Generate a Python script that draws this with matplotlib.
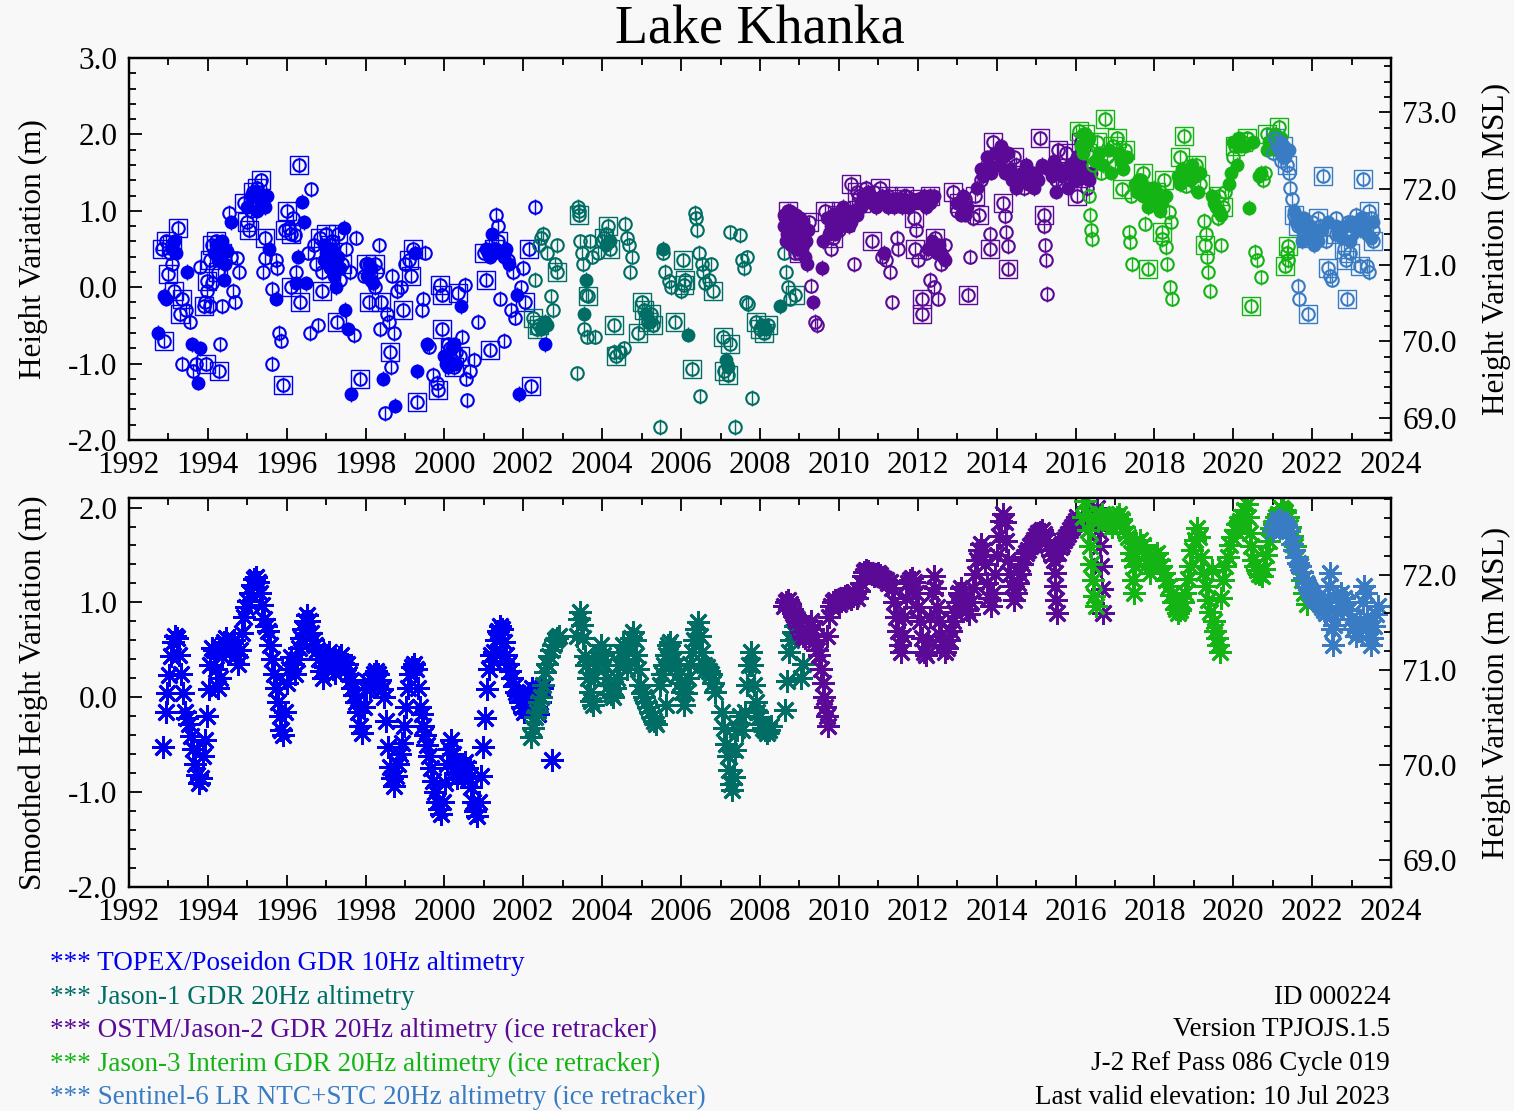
import numpy as np
import matplotlib
matplotlib.use("Agg")
import matplotlib.pyplot as plt
from matplotlib.ticker import MultipleLocator, FormatStrFormatter

plt.rcParams['font.family'] = ['Liberation Serif', 'DejaVu Serif']
plt.rcParams['axes.unicode_minus'] = False

# --- raw heights (top panel), (decimal year, height m) ---
tp_open = [(1993.05, 0.45), (1993.10, 0.30), (1993.35, -1.00), (1993.45, -0.30), (1993.55, -0.45),
           (1993.62, -1.10), (1993.70, -1.00), (1993.80, 0.27), (1993.92, -0.20), (1993.97, -0.05),
           (1994.05, -0.25), (1994.10, 0.05), (1994.35, -0.25), (1994.30, -0.75), (1994.55, 0.97),
           (1994.60, 0.40), (1994.65, -0.05), (1994.70, -0.20), (1994.75, 0.38), (1994.80, 0.20),
           (1995.10, 1.00), (1995.20, 1.10), (1995.40, 0.20), (1995.45, 0.38), (1995.64, -0.02),
           (1995.72, 0.35), (1995.75, 0.25), (1995.62, -1.00), (1995.80, -0.60), (1995.85, -0.70),
           (1996.05, 0.78), (1996.15, 0.90), (1996.20, 0.68), (1996.25, 0.20), (1996.55, 0.45),
           (1996.59, -0.60), (1996.63, 1.28), (1996.70, 0.55), (1996.75, 0.30), (1996.80, -0.50),
           (1996.90, 0.20), (1997.05, 0.45), (1997.15, 0.60), (1997.20, 0.35), (1997.35, 0.10),
           (1997.50, 0.50), (1997.60, 0.20), (1997.72, -0.63), (1997.75, 0.65), (1997.95, 0.15),
           (1998.05, 0.30), (1998.15, 0.10), (1998.25, 0.00), (1998.30, 0.20), (1998.35, 0.55),
           (1998.37, -0.55), (1998.50, -1.65), (1998.55, -0.35), (1998.60, -0.45), (1998.65, -1.05),
           (1998.68, 0.15), (1998.72, -0.60), (1998.80, -0.05), (1998.90, 0.00), (1999.00, 0.30),
           (1999.44, -0.30), (1999.47, -0.15), (1999.50, 0.45), (1999.60, -0.78), (1999.70, -1.15),
           (1999.80, -1.25), (2000.10, -0.75), (2000.20, -0.95), (2000.30, -0.85), (2000.45, -0.65),
           (2000.53, 0.03), (2000.55, -1.20), (2000.58, -1.48), (2000.65, -1.10), (2000.75, -0.95),
           (2000.85, -0.45), (2001.30, 0.95), (2001.35, 0.80), (2001.40, -0.15), (2001.50, -0.70),
           (2001.60, 0.35), (2001.70, -0.30), (2001.75, 0.20), (2001.80, -0.40), (2001.95, 0.00),
           (2002.30, 1.05), (2002.00, 0.25)]
tp_fill = [(1992.74, -0.60), (1992.90, -0.11), (1992.95, -0.15), (1993.47, 0.20), (1993.60, -0.75),
           (1993.75, -1.25), (1993.80, -0.80), (1994.30, 0.50), (1994.35, 0.60), (1994.40, 0.10),
           (1994.45, 0.30), (1994.50, 0.48), (1994.60, 0.85), (1995.30, 1.15), (1995.50, 1.20),
           (1995.55, 0.50), (1995.73, -0.15), (1996.25, 0.05), (1996.30, 0.40), (1996.40, 1.12),
           (1996.45, 0.85), (1996.50, 0.05), (1996.95, 0.35), (1997.10, 0.25), (1997.25, 0.00),
           (1997.45, 0.78), (1997.47, -0.30), (1997.55, -0.55), (1997.63, -1.40), (1998.20, 0.05),
           (1998.45, -1.20), (1998.76, -1.55), (1999.25, 0.45), (1999.30, -1.10), (1999.55, -0.75),
           (2000.05, -1.00), (2000.43, -0.25), (2001.20, 0.70), (2001.10, 0.45), (2001.88, -1.40),
           (2001.65, 0.30), (2002.56, -0.75), (2001.85, -0.10),
           (1995.00, 1.05), (1995.10, 1.20), (1995.20, 1.25), (1995.25, 1.00), (1995.35, 1.20),
           (1995.40, 1.10), (1995.45, 1.05), (1996.95, 0.55), (1997.00, 0.45), (1997.05, 0.30),
           (1997.15, 0.50), (1997.20, 0.15), (1997.30, 0.40), (1997.35, 0.25), (2001.05, 0.50),
           (2001.15, 0.40), (2001.25, 0.45), (2001.30, 0.50), (2001.45, 0.45), (2001.50, 0.40),
           (2001.55, 0.50), (1994.15, 0.45), (1994.20, 0.55), (1994.25, 0.35), (1993.10, 0.50),
           (1993.15, 0.60), (1993.20, 0.45), (2000.00, -0.90), (2000.10, -1.05), (2000.20, -0.80),
           (2000.25, -0.75), (2000.30, -1.00), (1998.05, 0.15), (1998.10, 0.30), (1998.15, 0.25)]
tp_box = [(1992.88, -0.70), (1992.85, 0.50), (1992.95, 0.60), (1993.00, 0.17), (1993.10, 0.55),
          (1993.24, 0.78), (1993.15, -0.05), (1993.30, -0.35), (1993.35, -0.15), (1993.95, -1.00),
          (1993.90, -0.25), (1993.98, 0.08), (1994.05, 0.35), (1994.10, 0.55), (1994.20, 0.60),
          (1994.28, -1.10), (1994.25, 0.20), (1994.35, 0.45), (1994.92, 1.10), (1995.00, 0.85),
          (1995.05, 0.75), (1995.15, 1.25), (1995.25, 1.30), (1995.35, 1.40), (1995.45, 0.65),
          (1995.90, -1.28), (1995.95, 0.75), (1996.00, 1.00), (1996.10, 0.00), (1996.12, 0.70),
          (1996.32, 1.60), (1996.35, -0.20), (1996.85, 0.65), (1996.90, -0.05), (1997.00, 0.70),
          (1997.10, 0.55), (1997.27, -0.45), (1997.30, 0.70), (1997.40, 0.30), (1997.85, -1.20),
          (1998.00, 0.30), (1998.10, -0.20), (1998.25, 0.30), (1998.40, -0.20), (1998.62, -0.85),
          (1998.95, -0.30), (1999.10, 0.35), (1999.20, 0.50), (1999.15, 0.15), (1999.30, -1.50),
          (1999.85, -1.35), (1999.90, 0.03), (1999.93, -0.10), (1999.95, -0.55), (2000.15, -0.80),
          (2000.25, -1.05), (2000.35, -0.08), (2000.40, -0.90), (2001.00, 0.45), (2001.05, 0.10),
          (2001.16, -0.82), (2001.25, 0.50), (2001.35, 0.60), (2002.20, -1.30), (2002.15, 0.50),
          (2002.05, -0.20)]

j1_open = [(2002.30, 0.10), (2002.40, 0.55), (2002.45, 0.65), (2002.50, 0.70), (2002.60, 0.45),
           (2002.70, -0.12), (2002.75, -0.30), (2002.80, 0.30), (2002.85, 0.55), (2003.35, -1.13),
           (2003.38, 1.05), (2003.42, 1.00), (2003.45, 0.60), (2003.48, 0.45), (2003.52, 0.30),
           (2003.55, -0.55), (2003.58, -0.10), (2003.62, -0.65), (2003.70, 0.60), (2003.75, 0.40),
           (2003.82, -0.65), (2003.90, 0.45), (2004.00, 0.60), (2004.10, 0.70), (2004.30, -0.85),
           (2004.45, -0.85), (2004.55, -0.80), (2004.58, 0.83), (2004.62, 0.65), (2004.68, 0.55),
           (2004.70, 0.20), (2004.75, 0.40), (2005.47, -1.83), (2005.55, 0.45), (2005.60, 0.20),
           (2005.70, 0.08), (2005.75, 0.00), (2006.00, -0.05), (2006.35, 0.97), (2006.38, 0.90),
           (2006.40, 0.75), (2006.45, 0.45), (2006.48, -1.43), (2006.52, 0.30), (2006.55, 0.20),
           (2006.60, 0.05), (2006.70, 0.10), (2006.75, 0.30), (2007.23, 0.72), (2007.37, -1.83),
           (2007.50, 0.68), (2007.55, 0.35), (2007.60, 0.25), (2007.65, -0.20), (2007.70, -0.22),
           (2007.67, 0.39), (2007.80, -1.45), (2008.60, 0.45), (2008.65, 0.20), (2008.70, 0.00),
           (2008.75, -0.15), (2008.80, 0.55)]
j1_fill = [(2002.50, -0.50), (2002.55, -0.45), (2003.55, -0.35), (2003.60, 0.10), (2005.55, 0.50),
           (2006.18, -0.62), (2007.15, -0.95), (2008.50, -0.25), (2005.10, -0.35), (2005.20, -0.45),
           (2002.45, -0.55), (2002.60, -0.50), (2004.10, 0.55), (2004.20, 0.60), (2007.20, -1.05),
           (2008.05, -0.50), (2008.15, -0.55)]
j1_box = [(2002.25, -0.40), (2002.35, -0.55), (2002.40, -0.50), (2002.85, 0.20), (2003.40, 0.95),
          (2003.65, -0.11), (2004.05, 0.65), (2004.15, 0.80), (2004.20, 0.50), (2004.30, -0.50),
          (2004.35, -0.90), (2004.92, -0.60), (2005.00, -0.20), (2005.05, -0.30), (2005.15, -0.45),
          (2005.25, -0.35), (2005.30, -0.50), (2005.85, -0.45), (2006.05, 0.35), (2006.08, 0.03),
          (2006.10, 0.10), (2006.27, -1.07), (2006.80, -0.05), (2007.07, -0.65), (2007.10, -1.10),
          (2007.20, -1.15), (2007.25, -0.75), (2007.90, -0.45), (2008.00, -0.55), (2008.10, -0.60),
          (2008.20, -0.50), (2008.90, -0.10)]

j2_open = [(2008.70, 0.90), (2008.80, 0.60), (2008.90, 0.45), (2009.00, 0.75), (2009.30, 0.02),
           (2009.40, -0.45), (2009.45, -0.50), (2009.80, 0.50), (2009.90, 0.90), (2010.00, 0.75),
           (2010.10, 0.95), (2010.38, 0.30), (2010.50, 1.20), (2010.60, 1.10), (2010.70, 1.30),
           (2010.90, 1.25), (2011.10, 0.40), (2011.20, 0.35), (2011.30, 0.20), (2011.35, -0.20),
           (2011.48, 0.65), (2011.50, 0.50), (2011.60, 1.10), (2011.70, 1.20), (2011.95, 0.75),
           (2012.00, 0.35), (2012.20, 0.45), (2012.30, 0.10), (2012.40, 0.00), (2012.52, -0.15),
           (2012.60, 0.30), (2012.70, 0.55), (2013.00, 1.00), (2013.20, 1.15), (2013.33, 0.40),
           (2013.40, 0.90), (2013.60, 1.40), (2013.70, 1.55), (2013.83, 0.70), (2014.00, 1.70),
           (2014.20, 0.93), (2014.25, 0.72), (2014.30, 0.54), (2014.50, 1.60), (2014.70, 1.30),
           (2014.90, 1.50), (2015.20, 0.80), (2015.22, 0.55), (2015.25, 0.35), (2015.28, -0.09),
           (2015.50, 1.40), (2015.70, 1.35), (2015.90, 1.50), (2016.10, 1.65), (2016.20, 1.45),
           (2016.30, 1.30)]
j2_fill = [(2008.60, 0.80), (2008.65, 0.60), (2008.75, 1.00), (2008.85, 0.70), (2008.95, 0.50),
           (2009.05, 0.65), (2009.10, 0.85), (2009.15, 0.40), (2009.20, 0.30), (2009.35, -0.20),
           (2009.57, 0.25), (2009.60, 0.60), (2009.70, 0.90), (2009.75, 0.70), (2010.20, 0.90),
           (2010.25, 0.80), (2010.40, 1.00), (2010.70, 1.15), (2010.80, 1.20), (2011.00, 1.10),
           (2011.15, 0.45), (2011.40, 1.05), (2011.80, 1.10), (2012.10, 1.10), (2012.25, 0.50),
           (2012.35, 0.60), (2012.50, 0.45), (2012.65, 0.40), (2013.10, 0.95), (2013.50, 1.30),
           (2013.80, 1.60), (2014.10, 1.85), (2014.30, 1.75), (2014.60, 1.45), (2014.80, 1.35),
           (2015.00, 1.50), (2015.40, 1.45), (2015.60, 1.55), (2015.80, 1.30), (2016.00, 1.40),
           (2016.40, 1.50),
           (2008.62, 0.95), (2008.68, 0.70), (2008.72, 0.85), (2008.78, 0.55), (2008.82, 0.90),
           (2008.88, 0.65), (2008.92, 0.95), (2008.98, 0.75), (2009.02, 0.90), (2009.08, 0.55),
           (2009.12, 0.70), (2009.18, 0.60), (2009.22, 0.75), (2009.80, 0.80), (2009.85, 0.95),
           (2009.90, 0.70), (2010.00, 0.90), (2010.05, 0.80), (2010.10, 1.05), (2010.15, 0.95),
           (2010.30, 0.85), (2010.35, 1.00), (2010.45, 0.95), (2010.55, 1.05), (2010.60, 1.20),
           (2010.65, 1.10), (2010.75, 1.25), (2010.85, 1.10), (2010.90, 1.15), (2010.95, 1.05),
           (2011.05, 1.15), (2011.10, 1.20), (2011.20, 1.10), (2011.25, 1.05), (2011.30, 1.15),
           (2011.55, 1.10), (2011.60, 1.05), (2011.65, 1.15), (2011.75, 1.05), (2011.85, 1.15),
           (2011.90, 1.10), (2012.00, 1.15), (2012.15, 1.20), (2012.20, 1.05), (2012.30, 1.10),
           (2012.35, 1.15), (2012.40, 1.20), (2012.55, 0.55), (2012.60, 0.45), (2012.70, 0.35),
           (2013.00, 1.10), (2013.15, 1.20), (2013.20, 0.95), (2013.25, 1.05), (2013.60, 1.55),
           (2013.65, 1.45), (2013.75, 1.70), (2013.85, 1.50), (2013.95, 1.75), (2014.05, 1.60),
           (2014.15, 1.70), (2014.20, 1.50), (2014.35, 1.55), (2014.40, 1.40), (2014.50, 1.30),
           (2014.65, 1.50), (2014.75, 1.60), (2014.85, 1.45), (2014.95, 1.30), (2015.05, 1.40),
           (2015.15, 1.60), (2015.30, 1.55), (2015.45, 1.65), (2015.50, 1.25), (2015.65, 1.45),
           (2015.75, 1.50), (2015.85, 1.60), (2015.95, 1.55), (2016.05, 1.70), (2016.15, 1.60),
           (2016.25, 1.50), (2016.35, 1.40)]
j2_box = [(2008.70, 1.00), (2008.90, 0.80), (2009.00, 0.45), (2009.25, 0.85), (2009.65, 1.00),
          (2009.85, 0.65), (2009.95, 0.95), (2010.05, 1.00), (2010.15, 0.85), (2010.30, 1.35),
          (2010.45, 1.25), (2010.55, 1.10), (2010.85, 0.60), (2011.05, 1.30), (2011.25, 1.20),
          (2011.45, 1.15), (2011.65, 1.20), (2011.90, 0.90), (2011.92, 0.50), (2012.05, 1.15),
          (2012.10, -0.15), (2012.12, -0.35), (2012.30, 1.20), (2012.45, 0.65), (2012.90, 1.25),
          (2013.05, 1.10), (2013.28, -0.10), (2013.45, 1.20), (2013.55, 0.95), (2013.83, 0.50),
          (2013.90, 1.90), (2014.15, 1.10), (2014.28, 0.24), (2014.45, 1.70), (2015.10, 1.95),
          (2015.20, 0.95), (2015.55, 1.80), (2015.75, 1.75), (2016.05, 1.20), (2016.15, 1.90)]

j3_open = [(2016.35, 1.20), (2016.38, 0.95), (2016.40, 0.75), (2016.42, 0.63), (2016.45, 1.60),
           (2016.65, 1.50), (2016.80, 1.70), (2017.00, 1.60), (2017.35, 0.72), (2017.38, 0.59),
           (2017.42, 0.30), (2017.40, 1.20), (2017.60, 1.40), (2017.77, 0.83), (2017.95, 1.10),
           (2018.10, 1.20), (2018.20, 0.63), (2018.30, 0.52), (2018.33, 0.30), (2018.40, 0.00),
           (2018.45, -0.15), (2018.37, 0.98), (2018.42, 0.85), (2018.80, 1.33), (2019.00, 1.50),
           (2019.25, 0.87), (2019.30, 0.70), (2019.33, 0.40), (2019.36, 0.20), (2019.40, -0.05),
           (2019.60, 0.90), (2019.70, 0.55), (2019.80, 1.25), (2020.00, 1.70), (2020.55, 0.46),
           (2020.60, 0.35), (2020.70, 0.13), (2020.75, 1.40), (2020.80, 1.50), (2021.35, 0.45),
           (2021.38, 0.35), (2021.00, 1.95)]
j3_fill = [(2016.20, 1.75), (2016.30, 1.90), (2016.50, 1.65), (2016.70, 1.60), (2016.90, 1.50),
           (2017.10, 1.75), (2017.20, 1.55), (2017.50, 1.35), (2017.70, 1.20), (2017.85, 1.05),
           (2018.00, 1.30), (2018.15, 1.00), (2018.60, 1.45), (2018.70, 1.55), (2018.90, 1.40),
           (2019.10, 1.25), (2019.50, 1.10), (2019.65, 1.00), (2019.90, 1.35), (2020.10, 1.60),
           (2020.20, 1.85), (2020.40, 1.04), (2020.65, 1.45), (2020.90, 1.90), (2021.10, 1.80),
           (2016.15, 1.85), (2016.20, 2.00), (2016.35, 1.95), (2016.60, 1.75), (2016.85, 1.80),
           (2017.15, 1.65), (2017.30, 1.70), (2017.55, 1.25), (2017.65, 1.40), (2017.80, 1.30),
           (2017.90, 1.15), (2018.05, 1.20), (2018.10, 1.05), (2018.20, 1.10), (2018.30, 1.20),
           (2018.65, 1.35), (2018.80, 1.50), (2018.95, 1.60), (2019.05, 1.45), (2019.15, 1.50),
           (2019.45, 1.20), (2019.55, 1.05), (2019.70, 0.95), (2019.95, 1.50), (2020.00, 1.90),
           (2020.15, 1.95), (2020.30, 1.85), (2020.50, 1.90), (2020.70, 1.50), (2020.85, 1.80),
           (2021.05, 2.00), (2021.20, 1.95)]
j3_box = [(2016.10, 2.05), (2016.25, 2.00), (2016.30, 1.75), (2016.55, 1.90), (2016.75, 2.20),
          (2016.95, 1.85), (2017.05, 1.95), (2017.17, 1.28), (2017.25, 1.80), (2017.70, 1.50),
          (2017.85, 0.24), (2018.05, 1.25), (2018.20, 0.72), (2018.25, 1.40), (2018.65, 1.70),
          (2018.75, 1.98), (2019.05, 1.60), (2019.15, 1.35), (2019.28, 0.55), (2019.65, 1.20),
          (2019.75, 1.05), (2020.05, 1.85), (2020.25, 1.90), (2020.35, 1.95), (2020.45, -0.24),
          (2020.85, 2.00), (2021.00, 1.85), (2021.15, 2.10), (2021.38, 0.54), (2021.30, 0.28)]

s6_open = [(2021.00, 1.75), (2021.10, 1.90), (2021.20, 1.65), (2021.40, 1.50), (2021.45, 1.30),
           (2021.50, 1.15), (2021.64, 0.02), (2021.66, -0.15), (2021.70, 0.90), (2021.80, 0.75),
           (2022.00, 0.85), (2022.20, 0.80), (2022.35, 0.60), (2022.45, 0.15), (2022.50, 0.10),
           (2022.60, 0.90), (2022.70, 0.75), (2022.90, 0.85), (2023.00, 0.70), (2023.10, 0.95),
           (2023.30, 0.90), (2023.40, 0.28), (2023.45, 0.20), (2023.50, 0.90), (2023.55, 0.75)]
s6_fill = [(2021.15, 1.80), (2021.30, 1.70), (2021.55, 1.00), (2021.60, 0.85), (2021.75, 0.60),
           (2021.90, 0.75), (2022.10, 0.70), (2022.40, 0.85), (2022.75, 0.65), (2022.95, 0.60),
           (2023.20, 0.75), (2023.35, 0.80), (2023.50, 0.65),
           (2021.20, 1.90), (2021.25, 1.70), (2021.40, 1.80), (2021.70, 0.80), (2021.80, 0.90),
           (2021.95, 0.80), (2022.00, 0.65), (2022.05, 0.55), (2022.15, 0.60), (2022.25, 0.75),
           (2022.60, 0.80), (2022.65, 0.70), (2022.85, 0.80), (2023.00, 0.85), (2023.10, 0.75),
           (2023.25, 0.90), (2023.40, 0.70), (2023.55, 0.85)]
s6_box = [(2021.05, 1.95), (2021.25, 1.85), (2021.35, 1.60), (2021.55, 0.95), (2021.65, 0.80),
          (2021.85, 0.65), (2021.90, -0.35), (2022.05, 0.75), (2022.15, 0.90), (2022.28, 1.46),
          (2022.40, 0.25), (2022.60, 0.70), (2022.80, 0.50), (2022.85, 0.35), (2022.88, -0.15),
          (2022.95, 0.45), (2023.05, 0.80), (2023.20, 0.28), (2023.30, 1.41), (2023.45, 1.00),
          (2023.55, 0.60)]

# --- smoothed heights (bottom panel) ---
tp_smooth = [(1992.87, -0.52), (1992.93, -0.15), (1992.97, 0.05), (1993.02, 0.23), (1993.07, 0.44),
             (1993.12, 0.58), (1993.18, 0.65), (1993.23, 0.62), (1993.28, 0.45), (1993.33, 0.25),
             (1993.38, 0.05), (1993.42, -0.16), (1993.47, -0.22), (1993.52, -0.28), (1993.57, -0.41),
             (1993.62, -0.55), (1993.67, -0.70), (1993.72, -0.82), (1993.77, -0.90), (1993.82, -0.85),
             (1993.87, -0.62), (1993.92, -0.45), (1993.97, -0.20), (1994.02, 0.09), (1994.07, 0.34),
             (1994.12, 0.52), (1994.17, 0.50), (1994.22, 0.30), (1994.27, 0.10), (1994.32, 0.20),
             (1994.37, 0.44), (1994.42, 0.58), (1994.47, 0.62), (1994.52, 0.55), (1994.57, 0.48),
             (1994.62, 0.52), (1994.67, 0.60), (1994.72, 0.45), (1994.77, 0.35), (1994.82, 0.50),
             (1994.87, 0.68), (1994.92, 0.85), (1994.97, 0.95), (1995.02, 1.02), (1995.07, 1.10),
             (1995.12, 1.18), (1995.17, 1.25), (1995.22, 1.27), (1995.27, 1.22), (1995.32, 1.10),
             (1995.37, 0.97), (1995.42, 0.82), (1995.47, 0.75), (1995.52, 0.70), (1995.57, 0.55),
             (1995.62, 0.40), (1995.67, 0.25), (1995.72, 0.10), (1995.77, -0.05), (1995.82, -0.20),
             (1995.87, -0.34), (1995.92, -0.40), (1995.97, -0.15), (1996.02, 0.15), (1996.07, 0.30),
             (1996.12, 0.42), (1996.17, 0.35), (1996.22, 0.25), (1996.27, 0.40), (1996.32, 0.52),
             (1996.37, 0.62), (1996.42, 0.72), (1996.47, 0.80), (1996.52, 0.87), (1996.57, 0.80),
             (1996.62, 0.68), (1996.67, 0.60), (1996.72, 0.55), (1996.77, 0.50), (1996.82, 0.40),
             (1996.87, 0.28), (1996.92, 0.20), (1996.97, 0.32), (1997.02, 0.45), (1997.07, 0.48),
             (1997.12, 0.40), (1997.17, 0.30), (1997.22, 0.26), (1997.27, 0.35), (1997.32, 0.42),
             (1997.37, 0.45), (1997.42, 0.36), (1997.47, 0.30), (1997.52, 0.35), (1997.57, 0.25),
             (1997.62, 0.18), (1997.67, 0.10), (1997.72, 0.02), (1997.77, -0.05), (1997.82, -0.16),
             (1997.87, -0.30), (1997.92, -0.38), (1997.97, -0.10), (1998.02, 0.09), (1998.07, 0.16),
             (1998.12, 0.10), (1998.17, 0.18), (1998.22, 0.25), (1998.27, 0.28), (1998.32, 0.25),
             (1998.37, 0.18), (1998.42, 0.09), (1998.47, 0.00), (1998.52, -0.25), (1998.57, -0.52),
             (1998.62, -0.73), (1998.67, -0.85), (1998.72, -0.94), (1998.77, -0.83), (1998.82, -0.70),
             (1998.87, -0.60), (1998.92, -0.48), (1998.97, -0.30), (1999.02, -0.10), (1999.07, 0.10),
             (1999.12, 0.25), (1999.17, 0.32), (1999.22, 0.35), (1999.27, 0.30), (1999.32, 0.10),
             (1999.37, -0.10), (1999.42, -0.18), (1999.47, -0.30), (1999.52, -0.40), (1999.57, -0.50),
             (1999.62, -0.62), (1999.67, -0.75), (1999.72, -0.88), (1999.77, -1.00), (1999.82, -1.10),
             (1999.87, -1.18), (1999.92, -1.23), (1999.97, -1.10), (2000.02, -0.90), (2000.07, -0.70),
             (2000.12, -0.55), (2000.17, -0.45), (2000.22, -0.60), (2000.27, -0.75), (2000.32, -0.85),
             (2000.37, -0.80), (2000.42, -0.78), (2000.47, -0.72), (2000.52, -0.68), (2000.57, -0.75),
             (2000.62, -0.85), (2000.67, -0.95), (2000.72, -1.10), (2000.77, -1.20), (2000.82, -1.25),
             (2000.87, -1.10), (2000.92, -0.83), (2000.97, -0.52), (2001.02, -0.22), (2001.07, 0.09),
             (2001.12, 0.30), (2001.17, 0.45), (2001.22, 0.38), (2001.27, 0.48), (2001.32, 0.60),
             (2001.37, 0.70), (2001.42, 0.75), (2001.47, 0.72), (2001.52, 0.58), (2001.57, 0.45),
             (2001.62, 0.35), (2001.67, 0.28), (2001.72, 0.20), (2001.77, 0.12), (2001.82, 0.06),
             (2001.87, 0.02), (2001.92, -0.05), (2001.97, -0.10), (2002.02, -0.16), (2002.07, -0.10),
             (2002.12, -0.02), (2002.17, 0.05), (2002.22, 0.10), (2002.27, 0.03), (2002.32, -0.10),
             (2002.37, -0.18), (2002.42, -0.05), (2002.47, 0.10), (2002.73, -0.66)]
j1_smooth = [(2002.20, -0.42), (2002.25, -0.32), (2002.30, -0.21), (2002.35, -0.15), (2002.40, -0.05),
             (2002.45, 0.00), (2002.50, 0.13), (2002.55, 0.27), (2002.60, 0.35), (2002.65, 0.44),
             (2002.70, 0.50), (2002.75, 0.55), (2002.80, 0.60), (2002.85, 0.62), (2002.90, 0.65),
             (2003.35, 0.65), (2003.40, 0.82), (2003.45, 0.90), (2003.48, 0.76), (2003.52, 0.62),
             (2003.56, 0.44), (2003.60, 0.34), (2003.64, 0.20), (2003.68, 0.06), (2003.72, -0.04),
             (2003.76, -0.08), (2003.80, 0.20), (2003.84, 0.34), (2003.88, 0.41), (2003.92, 0.48),
             (2003.97, 0.55), (2004.02, 0.45), (2004.07, 0.34), (2004.12, 0.20), (2004.17, 0.13),
             (2004.22, 0.03), (2004.27, 0.00), (2004.32, 0.10), (2004.37, 0.20), (2004.42, 0.34),
             (2004.47, 0.48), (2004.52, 0.55), (2004.57, 0.40), (2004.62, 0.30), (2004.67, 0.55),
             (2004.72, 0.62), (2004.77, 0.69), (2004.82, 0.60), (2004.87, 0.45), (2004.92, 0.30),
             (2004.97, 0.13), (2005.02, 0.05), (2005.07, 0.00), (2005.12, -0.05), (2005.17, -0.10),
             (2005.22, -0.15), (2005.27, -0.21), (2005.32, -0.25), (2005.37, -0.28), (2005.47, 0.13),
             (2005.52, 0.25), (2005.57, 0.34), (2005.62, 0.45), (2005.67, 0.55), (2005.72, 0.58),
             (2005.63, -0.08), (2005.77, 0.48), (2005.82, 0.40), (2005.87, 0.34), (2005.92, 0.25),
             (2005.97, 0.15), (2006.02, 0.06), (2006.07, -0.08), (2006.12, 0.05), (2006.17, 0.20),
             (2006.22, 0.35), (2006.27, 0.48), (2006.32, 0.60), (2006.37, 0.72), (2006.42, 0.79),
             (2006.47, 0.65), (2006.52, 0.48), (2006.57, 0.34), (2006.62, 0.30), (2006.67, 0.32),
             (2006.72, 0.28), (2006.77, 0.25), (2006.82, 0.15), (2006.87, 0.06), (2007.05, -0.15),
             (2007.10, -0.32), (2007.14, -0.49), (2007.18, -0.62), (2007.22, -0.77), (2007.26, -0.91),
             (2007.30, -0.98), (2007.34, -0.84), (2007.38, -0.56), (2007.42, -0.35), (2007.50, -0.20),
             (2007.55, -0.35), (2007.62, -0.15), (2007.67, 0.13), (2007.72, 0.34), (2007.77, 0.48),
             (2007.81, 0.34), (2007.85, 0.13), (2007.89, -0.05), (2007.93, -0.15), (2007.97, -0.21),
             (2008.02, -0.28), (2008.07, -0.32), (2008.12, -0.35), (2008.17, -0.38), (2008.22, -0.35),
             (2008.27, -0.30), (2008.63, -0.13), (2008.68, 0.17), (2008.73, 0.48), (2008.78, 0.60),
             (2008.83, 0.69), (2008.88, 0.75), (2008.93, 0.83), (2009.05, 0.20), (2009.10, 0.35)]
j2_smooth = [(2008.60, 0.96), (2008.65, 1.00), (2008.70, 1.03), (2008.75, 0.98), (2008.80, 0.93),
             (2008.85, 0.89), (2008.90, 0.85), (2008.95, 0.80), (2009.00, 0.75), (2009.05, 0.69),
             (2009.10, 0.65), (2009.15, 0.62), (2009.20, 0.68), (2009.25, 0.75), (2009.30, 0.80),
             (2009.35, 0.72), (2009.40, 0.60), (2009.45, 0.50), (2009.50, 0.45), (2009.55, 0.30),
             (2009.60, 0.15), (2009.63, 0.00), (2009.66, -0.10), (2009.70, -0.20), (2009.72, -0.30),
             (2009.70, 0.65), (2009.75, 0.85), (2009.80, 0.96), (2009.85, 1.00), (2009.90, 1.03),
             (2009.95, 1.00), (2010.00, 0.98), (2010.05, 1.02), (2010.10, 1.05), (2010.15, 1.07),
             (2010.20, 1.08), (2010.25, 1.06), (2010.30, 1.04), (2010.35, 1.07), (2010.40, 1.10),
             (2010.45, 1.05), (2010.50, 1.12), (2010.55, 1.20), (2010.60, 1.28), (2010.65, 1.32),
             (2010.70, 1.34), (2010.75, 1.33), (2010.80, 1.31), (2010.85, 1.30), (2010.90, 1.28),
             (2010.95, 1.30), (2011.00, 1.31), (2011.05, 1.29), (2011.10, 1.26), (2011.15, 1.25),
             (2011.20, 1.24), (2011.25, 1.20), (2011.30, 1.22), (2011.35, 1.15), (2011.40, 1.00),
             (2011.45, 0.85), (2011.50, 0.70), (2011.55, 0.55), (2011.58, 0.48), (2011.62, 0.65),
             (2011.66, 0.85), (2011.70, 1.05), (2011.75, 1.20), (2011.80, 1.24), (2011.85, 1.26),
             (2011.90, 1.22), (2011.95, 1.10), (2012.00, 0.95), (2012.05, 0.80), (2012.10, 0.62),
             (2012.15, 0.48), (2012.20, 0.45), (2012.25, 0.60), (2012.30, 0.85), (2012.35, 1.10),
             (2012.40, 1.28), (2012.45, 1.15), (2012.50, 0.95), (2012.55, 0.80), (2012.60, 0.65),
             (2012.65, 0.55), (2012.70, 0.48), (2012.75, 0.52), (2012.80, 0.60), (2012.85, 0.70),
             (2012.90, 0.80), (2012.95, 0.90), (2013.00, 1.00), (2013.05, 1.10), (2013.10, 1.15),
             (2013.15, 1.10), (2013.20, 1.00), (2013.25, 0.92), (2013.30, 0.88), (2013.35, 1.00),
             (2013.40, 1.15), (2013.45, 1.30), (2013.50, 1.45), (2013.55, 1.55), (2013.60, 1.62),
             (2013.65, 1.55), (2013.70, 1.40), (2013.75, 1.20), (2013.80, 1.05), (2013.85, 0.96),
             (2013.90, 1.10), (2013.95, 1.30), (2014.00, 1.50), (2014.05, 1.70), (2014.10, 1.86),
             (2014.15, 1.93), (2014.20, 1.85), (2014.25, 1.65), (2014.30, 1.45), (2014.35, 1.30),
             (2014.40, 1.17), (2014.45, 1.03), (2014.50, 1.10), (2014.55, 1.20), (2014.60, 1.30),
             (2014.65, 1.41), (2014.70, 1.48), (2014.75, 1.52), (2014.80, 1.55), (2014.85, 1.59),
             (2014.90, 1.62), (2014.95, 1.66), (2015.00, 1.70), (2015.05, 1.73), (2015.10, 1.74),
             (2015.15, 1.76), (2015.20, 1.72), (2015.25, 1.66), (2015.30, 1.60), (2015.35, 1.55),
             (2015.40, 1.50), (2015.45, 1.45), (2015.47, 1.31), (2015.49, 1.17), (2015.51, 1.03),
             (2015.53, 0.89), (2015.55, 1.52), (2015.60, 1.58), (2015.65, 1.62), (2015.70, 1.66),
             (2015.75, 1.69), (2015.80, 1.72), (2015.85, 1.76), (2015.90, 1.80), (2015.95, 1.83),
             (2016.00, 1.86), (2016.05, 1.90), (2016.55, 2.00), (2016.58, 1.76), (2016.61, 1.59),
             (2016.64, 1.38), (2016.67, 1.14), (2016.70, 0.89)]
j3_smooth = [(2016.20, 1.90), (2016.24, 2.07), (2016.28, 1.93), (2016.32, 1.76), (2016.36, 1.59),
             (2016.40, 1.41), (2016.44, 1.24), (2016.48, 1.07), (2016.52, 0.96), (2016.56, 1.86),
             (2016.62, 1.90), (2016.68, 1.93), (2016.74, 1.88), (2016.80, 1.86), (2016.86, 1.84),
             (2016.92, 1.80), (2016.98, 1.84), (2017.04, 1.90), (2017.10, 1.93), (2017.16, 1.88),
             (2017.22, 1.80), (2017.28, 1.73), (2017.34, 1.69), (2017.40, 1.52), (2017.43, 1.45),
             (2017.46, 1.24), (2017.49, 1.10), (2017.52, 1.38), (2017.58, 1.55), (2017.64, 1.66),
             (2017.70, 1.60), (2017.76, 1.52), (2017.82, 1.41), (2017.88, 1.31), (2017.94, 1.41),
             (2018.00, 1.50), (2018.06, 1.52), (2018.12, 1.45), (2018.18, 1.38), (2018.24, 1.31),
             (2018.30, 1.24), (2018.36, 1.17), (2018.42, 1.08), (2018.48, 1.00), (2018.54, 0.93),
             (2018.60, 0.89), (2018.66, 0.92), (2018.72, 1.00), (2018.78, 1.10), (2018.84, 1.25),
             (2018.90, 1.38), (2018.96, 1.55), (2019.02, 1.66), (2019.08, 1.78), (2019.13, 1.69),
             (2019.18, 1.48), (2019.24, 1.31), (2019.30, 1.17), (2019.36, 1.03), (2019.42, 0.90),
             (2019.47, 1.34), (2019.50, 0.80), (2019.54, 0.70), (2019.58, 0.62), (2019.62, 0.55),
             (2019.66, 0.48), (2019.70, 1.05), (2019.75, 1.24), (2019.80, 1.38), (2019.86, 1.48),
             (2019.92, 1.60), (2019.98, 1.69), (2020.04, 1.76), (2020.10, 1.83), (2020.16, 1.86),
             (2020.22, 1.90), (2020.28, 1.97), (2020.34, 2.04), (2020.38, 1.90), (2020.42, 1.73),
             (2020.46, 1.59), (2020.50, 1.45), (2020.55, 1.38), (2020.60, 1.34), (2020.66, 1.30),
             (2020.72, 1.28), (2020.78, 1.35), (2020.84, 1.50), (2020.90, 1.65), (2020.96, 1.78),
             (2021.02, 1.83), (2021.08, 1.90), (2021.14, 1.93), (2021.20, 2.00), (2021.26, 1.97),
             (2021.32, 1.95), (2021.38, 1.90), (2021.44, 1.80), (2021.50, 1.70), (2021.56, 1.59),
             (2021.62, 1.48), (2021.68, 1.38), (2021.74, 1.24), (2021.80, 1.10), (2021.86, 0.98)]
s6_smooth = [(2021.00, 1.75), (2021.05, 1.80), (2021.10, 1.86), (2021.15, 1.88), (2021.20, 1.86),
             (2021.25, 1.83), (2021.30, 1.82), (2021.35, 1.80), (2021.40, 1.75), (2021.45, 1.69),
             (2021.50, 1.62), (2021.55, 1.55), (2021.60, 1.48), (2021.65, 1.42), (2021.70, 1.38),
             (2021.75, 1.32), (2021.80, 1.26), (2021.85, 1.20), (2021.90, 1.16), (2021.95, 1.12),
             (2022.00, 1.08), (2022.05, 1.05), (2022.10, 1.03), (2022.15, 1.01), (2022.20, 0.98),
             (2022.25, 0.95), (2022.30, 0.92), (2022.35, 0.89), (2022.40, 1.00), (2022.43, 1.17),
             (2022.46, 1.31), (2022.50, 0.72), (2022.53, 0.55), (2022.56, 0.76), (2022.62, 0.90),
             (2022.68, 1.00), (2022.74, 1.10), (2022.80, 1.05), (2022.86, 1.00), (2022.92, 0.92),
             (2022.98, 0.82), (2023.04, 0.72), (2023.10, 0.65), (2023.16, 0.70), (2023.22, 0.80),
             (2023.28, 1.00), (2023.32, 1.17), (2023.36, 1.10), (2023.40, 0.85), (2023.44, 0.69),
             (2023.48, 0.55), (2023.52, 0.62), (2023.56, 0.75), (2023.62, 0.88), (2023.68, 0.96)]

mission_names = ["TOPEX/Poseidon GDR 10Hz altimetry",
                 "Jason-1 GDR 20Hz altimetry",
                 "OSTM/Jason-2 GDR 20Hz altimetry (ice retracker)",
                 "Jason-3 Interim GDR 20Hz altimetry (ice retracker)",
                 "Sentinel-6 LR NTC+STC 20Hz altimetry (ice retracker)"]
mission_colors = ['#0000f0', '#006e64', '#5a0a96', '#14b414', '#3a7cc4']
info_lines = ["ID 000224", "Version TPJOJS.1.5", "J-2 Ref Pass 086 Cycle 019",
              "Last valid elevation: 10 Jul 2023"]

MSL_OFFSET = 70.71   # left axis + offset = elevation above MSL
ERR = 0.1

raw_sets = [(tp_open, tp_fill, tp_box), (j1_open, j1_fill, j1_box), (j2_open, j2_fill, j2_box),
            (j3_open, j3_fill, j3_box), (s6_open, s6_fill, s6_box)]
smooth_sets = [tp_smooth, j1_smooth, j2_smooth, j3_smooth, s6_smooth]

BG = '#f8f8f9'
fig = plt.figure(figsize=(15.14, 11.11), dpi=100, facecolor=BG)
ax_top = fig.add_axes([0.0851, 0.6040, 0.8337, 0.3438])
ax_bot = fig.add_axes([0.0851, 0.2016, 0.8337, 0.3501])


def unzip(pts):
    arr = np.array(pts)
    return arr[:, 0], arr[:, 1]


def style_axes(ax, ylim, ylabel, rlabel):
    ax.set_facecolor(BG)
    ax.set_xlim(1992, 2024)
    ax.set_ylim(*ylim)
    ax.xaxis.set_major_locator(MultipleLocator(2))
    ax.xaxis.set_minor_locator(MultipleLocator(1))
    ax.yaxis.set_major_locator(MultipleLocator(1.0))
    ax.yaxis.set_minor_locator(MultipleLocator(0.2))
    ax.yaxis.set_major_formatter(FormatStrFormatter('%.1f'))
    ax.tick_params(which='both', direction='in', top=True, right=False, width=1.3,
                   labelsize=22.5, pad=8)
    ax.tick_params(which='major', length=9)
    ax.tick_params(which='minor', length=5)
    for sp in ax.spines.values():
        sp.set_linewidth(1.6)
    ax.set_ylabel(ylabel, fontsize=22.5, labelpad=15)

    rax = ax.twinx()
    rax.set_ylim(ylim[0] + MSL_OFFSET, ylim[1] + MSL_OFFSET)
    rax.yaxis.set_major_locator(MultipleLocator(1.0))
    rax.yaxis.set_minor_locator(MultipleLocator(0.2))
    rax.yaxis.set_major_formatter(FormatStrFormatter('%.1f'))
    rax.tick_params(which='both', direction='in', width=1.3, labelsize=22.5, pad=8)
    rax.tick_params(which='major', length=9)
    rax.tick_params(which='minor', length=5)
    rax.set_ylabel(rlabel, fontsize=22.5, labelpad=18)
    for sp in rax.spines.values():
        sp.set_linewidth(1.6)
    return rax


# top panel: individual heights
for (p_open, p_fill, p_box), col in zip(raw_sets, mission_colors):
    for pts in (p_open, p_box):
        t, h = unzip(pts)
        ax_top.errorbar(t, h, yerr=ERR, fmt='o', ms=9, mfc='none', mec=col, mew=1.5,
                        ecolor=col, elinewidth=1.0)
    t, h = unzip(p_fill)
    ax_top.errorbar(t, h, yerr=ERR, fmt='o', ms=9, mfc=col, mec=col, mew=1.0,
                    ecolor=col, elinewidth=1.0)
    t, h = unzip(p_box)
    ax_top.plot(t, h, 's', ms=12.5, mfc='none', mec=col, mew=1.0)

style_axes(ax_top, (-2.0, 3.0), "Height Variation (m)", "Height Variation (m MSL)")

# bottom panel: smoothed heights
for pts, col in zip(smooth_sets, mission_colors):
    t, h = unzip(pts)
    ax_bot.plot(t, h, linestyle='none', marker=(8, 2, 0), ms=16, mec=col, mew=2.0)

style_axes(ax_bot, (-2.0, 2.1), "Smoothed Height Variation (m)", "Height Variation (m MSL)")

fig.text(0.502, 1 - 30 / 1111, "Lake Khanka", fontsize=39, ha='center', va='center')

legend_y = [963, 997, 1030, 1064, 1097]
for name, col, y in zip(mission_names, mission_colors, legend_y):
    fig.text(50 / 1514, 1 - y / 1111, "*** " + name, color=col, fontsize=19.5,
             ha='left', va='center')
for line, y in zip(info_lines, legend_y[1:]):
    fig.text(1390 / 1514, 1 - y / 1111, line, color='black', fontsize=19.5,
             ha='right', va='center')

fig.savefig("out.png", dpi=100, facecolor=BG)
